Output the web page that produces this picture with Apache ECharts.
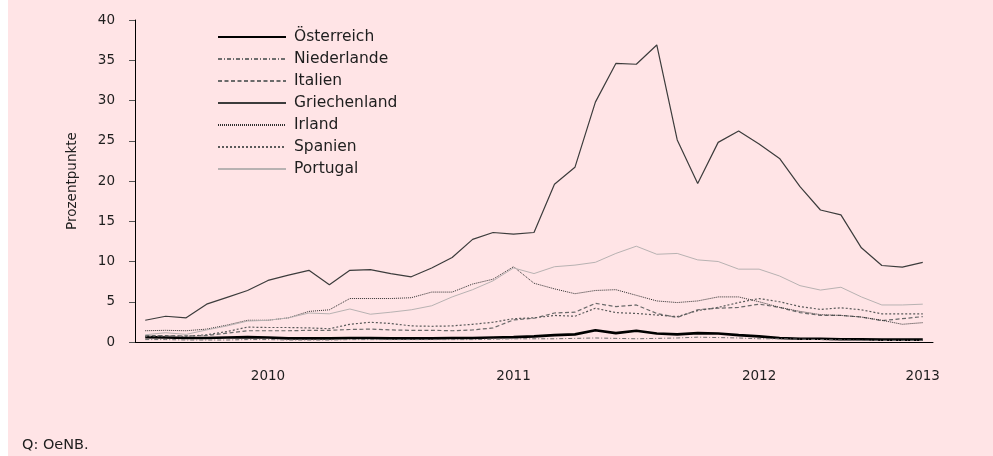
<!DOCTYPE html>
<html>
<head>
<meta charset="utf-8">
<script src="https://cdn.jsdelivr.net/npm/echarts@6/dist/echarts.min.js"></script>
<style>
  html, body { margin: 0; padding: 0; background: #fff; }
  #chart { position: absolute; left: 8px; top: 0; width: 985px; height: 456px; }
</style>
</head>
<body>
<div id="chart"></div>
<script>
// Monatswerte Jän 2010 - Mär 2013
const months = [
  '2010-01', '2010-02', '2010-03', '2010-04', '2010-05', '2010-06', '2010-07', '2010-08', '2010-09', '2010-10', '2010-11', '2010-12',
  '2011-01', '2011-02', '2011-03', '2011-04', '2011-05', '2011-06', '2011-07', '2011-08', '2011-09', '2011-10', '2011-11', '2011-12',
  '2012-01', '2012-02', '2012-03', '2012-04', '2012-05', '2012-06', '2012-07', '2012-08', '2012-09', '2012-10', '2012-11', '2012-12',
  '2013-01', '2013-02', '2013-03'
]
const yearTickIdx = [0, 12, 24, 36]
const yearLabelIdx = [6, 18, 30, 38]
const yearLabels = ['2010', '2011', '2012', '2013']

const oesterreich = [0.6, 0.55, 0.5, 0.5, 0.55, 0.6, 0.55, 0.45, 0.45, 0.45, 0.5, 0.5, 0.45, 0.45, 0.45, 0.5, 0.5, 0.55, 0.6, 0.7,
  0.85, 0.95, 1.45, 1.1, 1.4, 1.05, 0.95, 1.1, 1.05, 0.85, 0.7, 0.5, 0.4, 0.4, 0.35, 0.35, 0.3, 0.3, 0.3]
const niederlande = [0.3, 0.3, 0.25, 0.25, 0.25, 0.3, 0.3, 0.25, 0.25, 0.25, 0.3, 0.3, 0.3, 0.3, 0.3, 0.3, 0.3, 0.35, 0.4, 0.4,
  0.4, 0.45, 0.5, 0.45, 0.4, 0.45, 0.5, 0.6, 0.55, 0.5, 0.4, 0.4, 0.35, 0.3, 0.25, 0.2, 0.2, 0.2, 0.2]
const italien = [0.8, 0.8, 0.75, 0.8, 1.1, 1.4, 1.4, 1.4, 1.45, 1.45, 1.55, 1.6, 1.5, 1.45, 1.45, 1.4, 1.5, 1.75, 2.75, 2.95,
  3.6, 3.7, 4.8, 4.4, 4.6, 3.55, 3.05, 4.0, 4.2, 4.3, 4.7, 4.3, 3.65, 3.3, 3.3, 3.1, 2.65, 2.9, 3.15]
const griechenland = [2.7, 3.2, 3.0, 4.7, 5.55, 6.4, 7.65, 8.3, 8.9, 7.1, 8.9, 9.0, 8.5, 8.1, 9.2, 10.5, 12.75, 13.6, 13.4, 13.6,
  19.6, 21.7, 29.8, 34.6, 34.5, 36.9, 25.1, 19.7, 24.8, 26.2, 24.6, 22.8, 19.3, 16.4, 15.8, 11.7, 9.5, 9.3, 9.9]
const irland = [1.4, 1.45, 1.4, 1.6, 2.1, 2.7, 2.7, 3.0, 3.8, 4.0, 5.4, 5.4, 5.4, 5.5, 6.2, 6.2, 7.2, 7.8, 9.35, 7.3,
  6.6, 6.0, 6.4, 6.5, 5.8, 5.1, 4.9, 5.1, 5.6, 5.6, 5.0, 4.3, 3.8, 3.4, 3.3, 3.1, 2.7, 2.2, 2.4]
const spanien = [0.7, 0.75, 0.7, 0.9, 1.3, 1.85, 1.8, 1.8, 1.75, 1.65, 2.2, 2.45, 2.3, 2.0, 1.95, 2.0, 2.2, 2.45, 2.9, 3.0,
  3.3, 3.2, 4.2, 3.65, 3.55, 3.35, 3.15, 3.9, 4.3, 4.9, 5.4, 5.0, 4.4, 4.05, 4.25, 4.0, 3.5, 3.5, 3.5]
const portugal = [0.9, 1.15, 0.95, 1.5, 2.0, 2.6, 2.7, 3.0, 3.6, 3.5, 4.1, 3.45, 3.7, 4.0, 4.5, 5.6, 6.5, 7.6, 9.2, 8.5,
  9.35, 9.55, 9.9, 11.0, 11.9, 10.9, 11.0, 10.2, 10.0, 9.05, 9.05, 8.2, 7.0, 6.45, 6.8, 5.6, 4.6, 4.6, 4.7]

const FONT = 'DejaVu Sans'

function initSeries(name, data, lineStyle) {
  return {
    name,
    data,
    type: 'line',
    symbol: 'none',
    smooth: false,
    lineStyle,
    itemStyle: { color: lineStyle.color },
    emphasis: { disabled: true }
  }
}

const series = [
  initSeries('Österreich', oesterreich, { color: '#000000', width: 2.6 }),
  initSeries('Niederlande', niederlande, { color: '#6e6e6e', width: 1, type: [4, 2, 1, 2] }),
  initSeries('Italien', italien, { color: '#6a6a6a', width: 1.2, type: [4, 2.5] }),
  initSeries('Griechenland', griechenland, { color: '#3c3c3c', width: 1.2 }),
  initSeries('Irland', irland, { color: '#2e2e2e', width: 1, type: [1, 1] }),
  initSeries('Spanien', spanien, { color: '#5a5a5a', width: 1.2, type: [2, 2] }),
  initSeries('Portugal', portugal, { color: '#b8b2b2', width: 1 })
]

const chart = echarts.init(document.getElementById('chart'), null, { renderer: 'canvas' })

const option = {
  backgroundColor: '#ffe4e6',
  animation: false,
  grid: {
    left: 127,
    right: 60,
    top: 20,
    bottom: 114
  },
  legend: {
    orient: 'vertical',
    left: 209,
    top: 29,
    padding: 0,
    itemWidth: 68,
    itemHeight: 14,
    itemGap: 6,
    selectedMode: false,
    itemStyle: { opacity: 0 },
    textStyle: {
      fontFamily: FONT,
      fontSize: 15.5,
      lineHeight: 16,
      color: '#1e1e1e',
      padding: [0, 0, 0, 3]
    },
    data: series.map(s => s.name)
  },
  xAxis: [{
    type: 'category',
    boundaryGap: true,
    data: months,
    axisLine: {
      lineStyle: { color: '#000000', width: 1 }
    },
    axisTick: {
      length: 4,
      interval: (index) => yearTickIdx.includes(index),
      lineStyle: { color: '#555555' }
    },
    axisLabel: {
      interval: (index) => yearLabelIdx.includes(index),
      formatter: (val, index) => yearLabels[yearLabelIdx.indexOf(index)] || '',
      margin: 27,
      fontFamily: FONT,
      fontSize: 13.5,
      color: '#1e1e1e'
    },
    splitLine: { show: false }
  }],
  yAxis: [{
    type: 'value',
    min: 0,
    max: 40,
    interval: 5,
    name: 'Prozentpunkte',
    nameLocation: 'middle',
    nameGap: 56,
    nameTextStyle: {
      fontFamily: FONT,
      fontSize: 13.5,
      color: '#1e1e1e'
    },
    axisLine: {
      show: true,
      lineStyle: { color: '#000000', width: 1 }
    },
    axisTick: {
      show: true,
      length: 6,
      lineStyle: { color: '#555555' }
    },
    axisLabel: {
      margin: 20,
      fontFamily: FONT,
      fontSize: 13.5,
      color: '#1e1e1e'
    },
    splitLine: { show: false }
  }],
  graphic: [{
    type: 'text',
    left: 14,
    top: 438,
    style: {
      text: 'Q: OeNB.',
      fontFamily: FONT,
      fontSize: 14.5,
      fill: '#1e1e1e'
    }
  }],
  series
}

chart.setOption(option)
</script>
</body>
</html>
